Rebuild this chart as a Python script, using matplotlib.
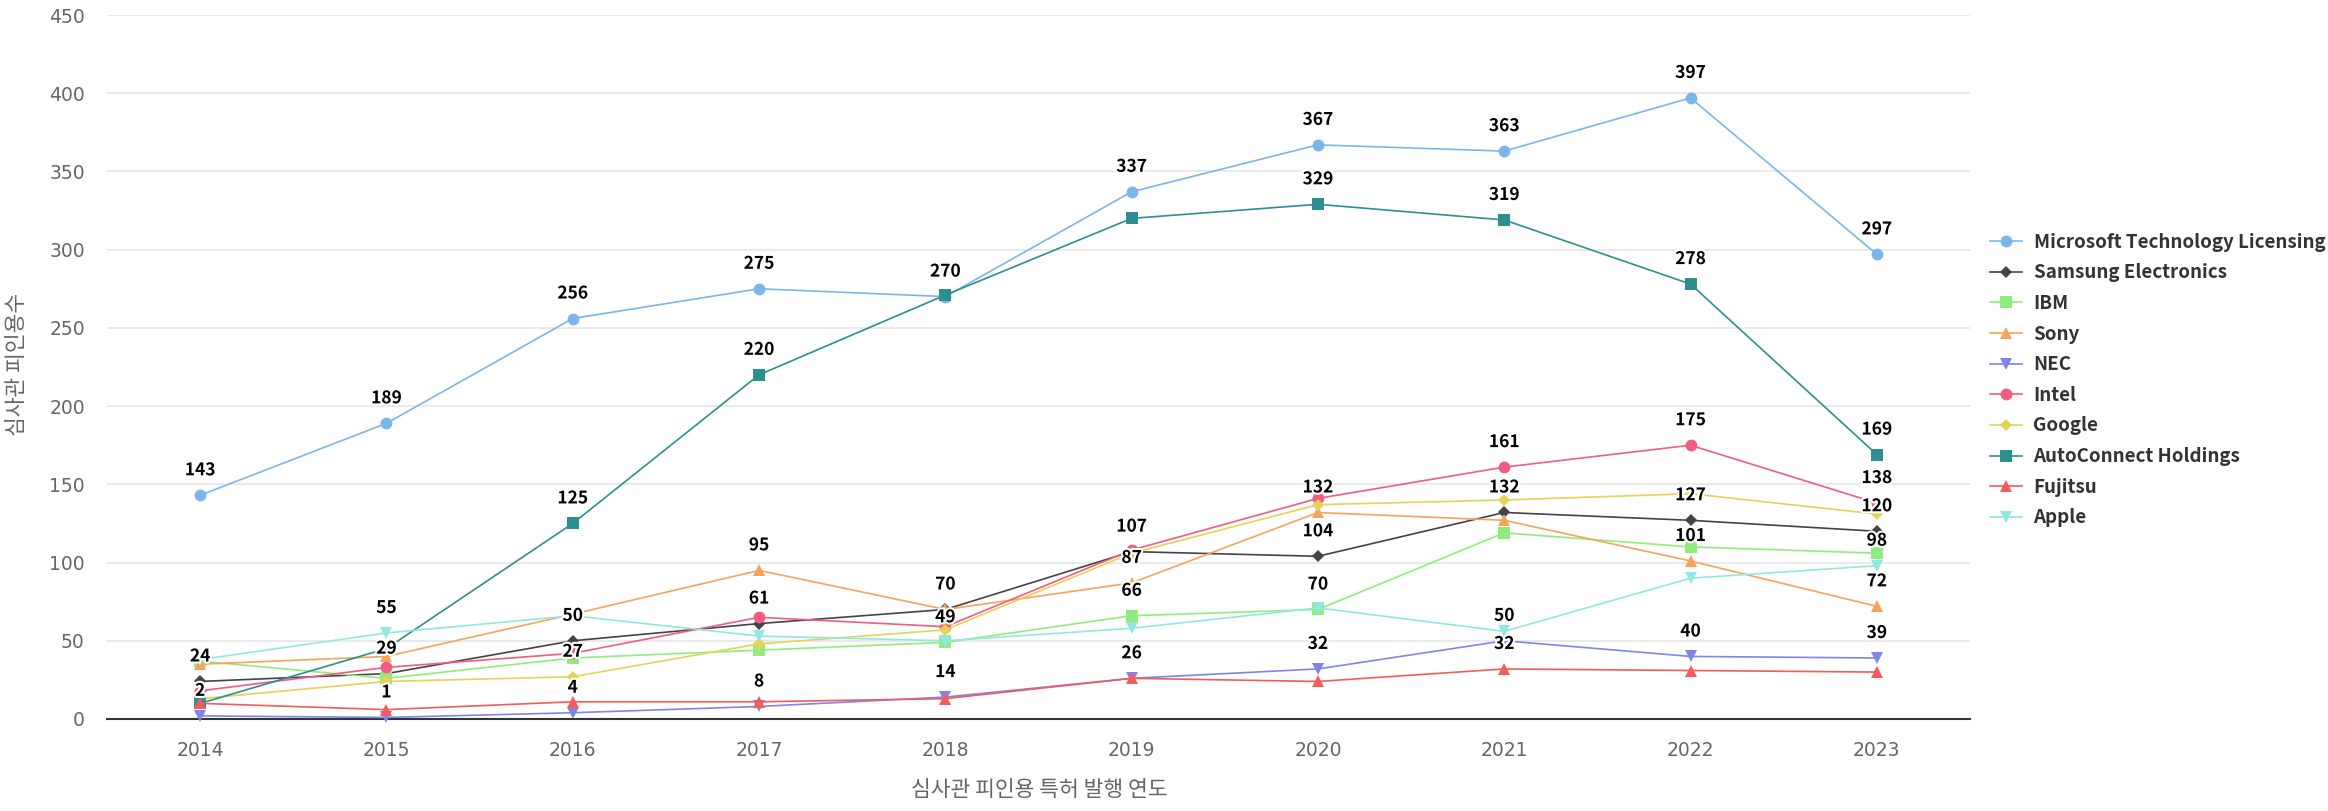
import matplotlib
matplotlib.use("Agg")
import matplotlib.pyplot as plt
from matplotlib import patheffects as pe

plt.rcParams['font.family'] = ['Noto Sans CJK KR', 'DejaVu Sans']

# data
years = [2014, 2015, 2016, 2017, 2018, 2019, 2020, 2021, 2022, 2023]
names = ['Microsoft Technology Licensing', 'Samsung Electronics', 'IBM', 'Sony', 'NEC',
         'Intel', 'Google', 'AutoConnect Holdings', 'Fujitsu', 'Apple']
microsoft = [143, 189, 256, 275, 270, 337, 367, 363, 397, 297]
samsung = [24, 29, 50, 61, 70, 107, 104, 132, 127, 120]
ibm = [37, 26, 39, 44, 49, 66, 70, 119, 110, 106]
sony = [35, 40, 67, 95, 70, 87, 132, 127, 101, 72]
nec = [2, 1, 4, 8, 14, 26, 32, 50, 40, 39]
intel = [18, 33, 42, 65, 59, 108, 141, 161, 175, 138]
google = [13, 24, 27, 48, 57, 106, 137, 140, 144, 131]
autoconnect = [10, 45, 125, 220, 271, 320, 329, 319, 278, 169]
fujitsu = [10, 6, 11, 11, 13, 26, 24, 32, 31, 30]
apple = [38, 55, 66, 53, 50, 58, 71, 56, 90, 98]
series = [microsoft, samsung, ibm, sony, nec, intel, google, autoconnect, fujitsu, apple]

# highcharts default look
colors = ['#7cb5ec', '#434348', '#90ed7d', '#f7a35c', '#8085e9',
          '#f15c80', '#e4d354', '#2b908f', '#f45b5b', '#91e8e1']
markers = ['o', 'D', 's', '^', 'v']
msizes = {'o': 8.5, 'D': 6.2, 's': 8, '^': 8.5, 'v': 8.5}

W, H = 2328, 811
fig = plt.figure(figsize=(W / 100, H / 100), dpi=100)
ax = fig.add_axes([107 / W, 1 - 719 / H, (1970 - 107) / W, (719 - 15) / H])

for i, (name, vals) in enumerate(zip(names, series)):
    m = markers[i % 5]
    ax.plot(years, vals, color=colors[i], lw=1.2, marker=m, ms=msizes[m],
            mew=0, label=name, zorder=3 + i * 0.1, clip_on=False)

# data labels, hiding the ones that would overlap an earlier one
min_gap = 17.5
shown = {y: [] for y in years}
for vals in series:
    for y, v in zip(years, vals):
        if any(abs(v - o) < min_gap for o in shown[y]):
            continue
        shown[y].append(v)
        ax.annotate(str(v), (y, v), xytext=(0, 18), textcoords='offset points',
                    ha='center', va='center', fontsize=12.5, fontweight='bold',
                    color='black', zorder=10,
                    path_effects=[pe.withStroke(linewidth=3, foreground='white')])

ax.set_xlim(2013.5, 2023.5)
ax.set_ylim(0, 450)
ax.set_xticks(years)
ax.set_yticks(range(0, 451, 50))
ax.yaxis.grid(True, color='#e6e6e6', lw=1.2)
ax.set_axisbelow(True)
for s in ['top', 'right', 'left']:
    ax.spines[s].set_visible(False)
ax.spines['bottom'].set_color('#333333')
ax.spines['bottom'].set_linewidth(1.5)
ax.tick_params(axis='both', length=0, labelsize=13.5, labelcolor='#666666')
ax.tick_params(axis='y', pad=16)
ax.tick_params(axis='x', pad=16)
for lab in ax.get_xticklabels() + ax.get_yticklabels():
    lab.set_fontfamily('DejaVu Sans')

fig.text(17 / W, 1 - 364 / H, '심사관 피인용수', rotation=90, ha='center', va='center',
         fontsize=15.5, color='#666666')
fig.text(1039 / W, 1 - 790 / H, '심사관 피인용 특허 발행 연도', ha='center', va='center',
         fontsize=15.5, color='#666666')

leg = ax.legend(loc='center left', bbox_to_anchor=(1981 / W, 1 - 380 / H),
                bbox_transform=fig.transFigure, frameon=False, fontsize=13.5,
                handlelength=1.7, handletextpad=0.6, labelspacing=0.62, borderpad=0)
for t in leg.get_texts():
    t.set_color('#333333')
    t.set_fontweight('bold')

fig.savefig('out.png', dpi=100)
